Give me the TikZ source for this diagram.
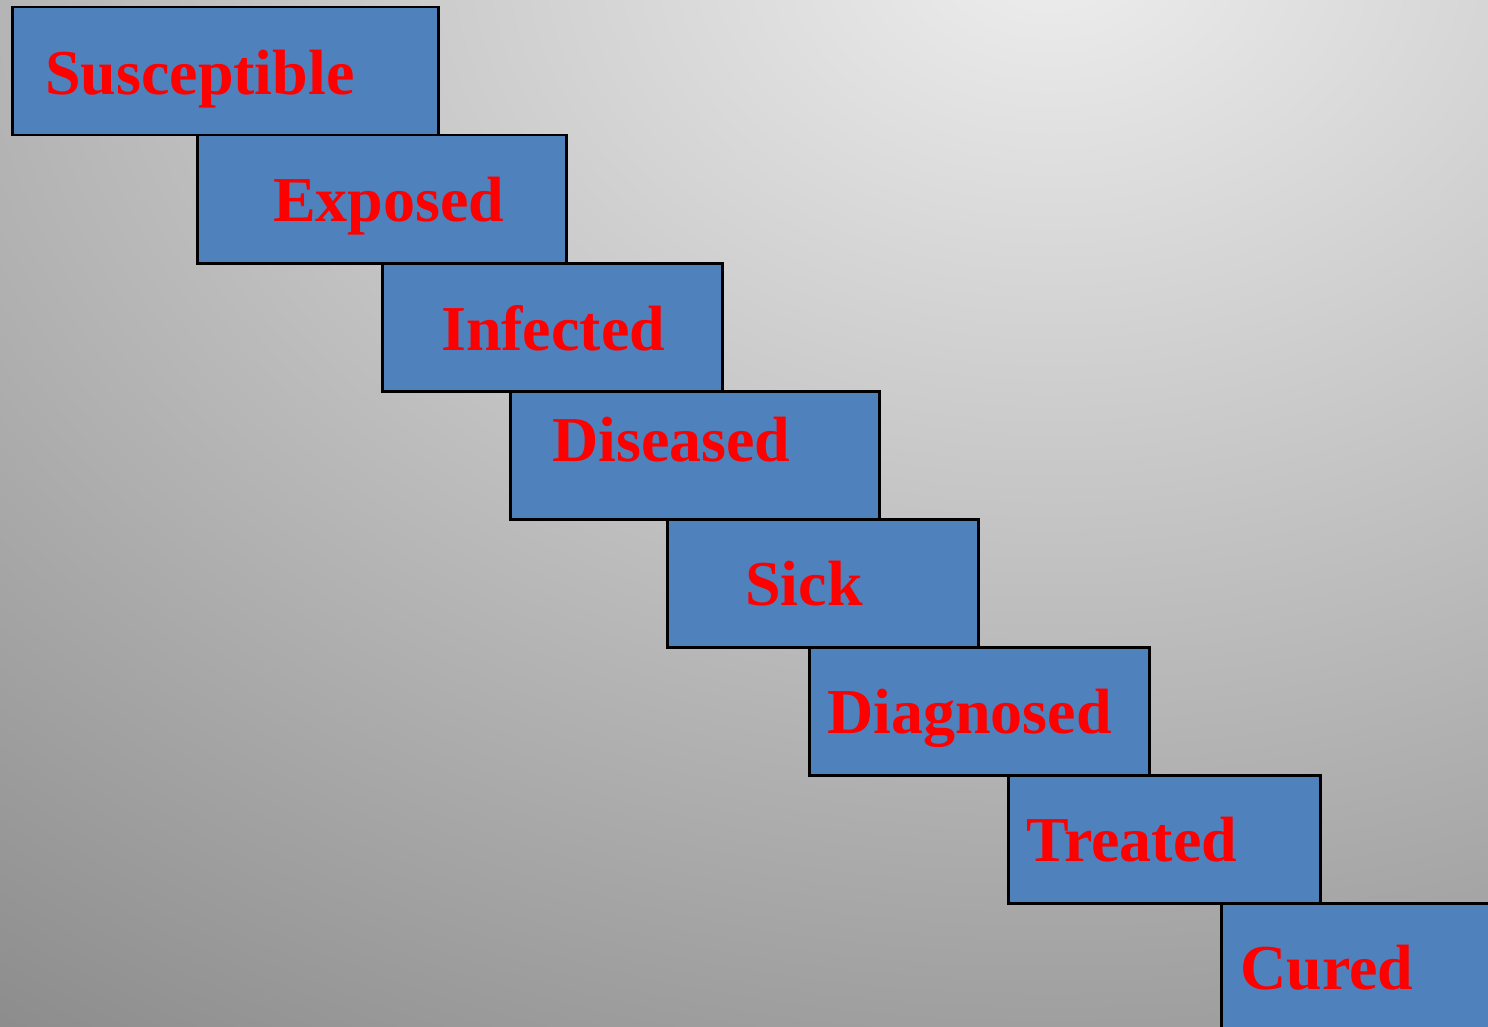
\documentclass[tikz,border=0pt]{standalone}
\usepackage{fontspec}
\setmainfont{Liberation Serif}
\definecolor{boxblue}{HTML}{4F81BD}
\definecolor{bginner}{RGB}{238,238,238}
\definecolor{bgouter}{RGB}{128,128,128}
\pgfdeclareradialshading{bgshade}{\pgfpoint{0bp}{0bp}}{color(0bp)=(bginner); color(25bp)=(bgouter); color(50bp)=(bgouter)}
\begin{document}
\begin{tikzpicture}[x=1pt,y=-1pt,
  stepbox/.style={draw=black, line width=2.5pt, fill=boxblue, rectangle, inner sep=0pt, anchor=north west},
  steplabel/.style={text=red, font=\fontsize{64}{77}\selectfont\bfseries, inner sep=0pt, anchor=base west}]
\useasboundingbox (0,0) rectangle (1488,1027);
\clip (0,0) rectangle (1488,1027);
\fill[bgouter] (0,0) rectangle (1488,1027);
\shade[shading=bgshade] (1050,-50) ellipse (2025pt and 1500pt);
% boxes
\node[stepbox, minimum width=426pt, minimum height=128pt] (b1) at (11,6) {};
\node[stepbox, minimum width=369pt, minimum height=128pt] (b2) at (196,134) {};
\node[stepbox, minimum width=340pt, minimum height=128pt] (b3) at (381,262) {};
\node[stepbox, minimum width=369pt, minimum height=128pt] (b4) at (509,390) {};
\node[stepbox, minimum width=311pt, minimum height=128pt] (b5) at (666,518) {};
\node[stepbox, minimum width=340pt, minimum height=128pt] (b6) at (808,646) {};
\node[stepbox, minimum width=312pt, minimum height=128pt] (b7) at (1007,774) {};
\node[stepbox, minimum width=300pt, minimum height=160pt] (b8) at (1220,902) {};
% labels
\node[steplabel] (t1) at (45,95) {Susceptible};
\node[steplabel] (t2) at (273,222) {Exposed};
\node[steplabel] (t3) at (441,350) {Infected};
\node[steplabel] (t4) at (552,461) {Diseased};
\node[steplabel] (t5) at (745,605) {Sick};
\node[steplabel] (t6) at (827,733) {Diagnosed};
\node[steplabel] (t7) at (1026,861) {Treated};
\node[steplabel] (t8) at (1240,989) {Cured};
\end{tikzpicture}
\end{document}
